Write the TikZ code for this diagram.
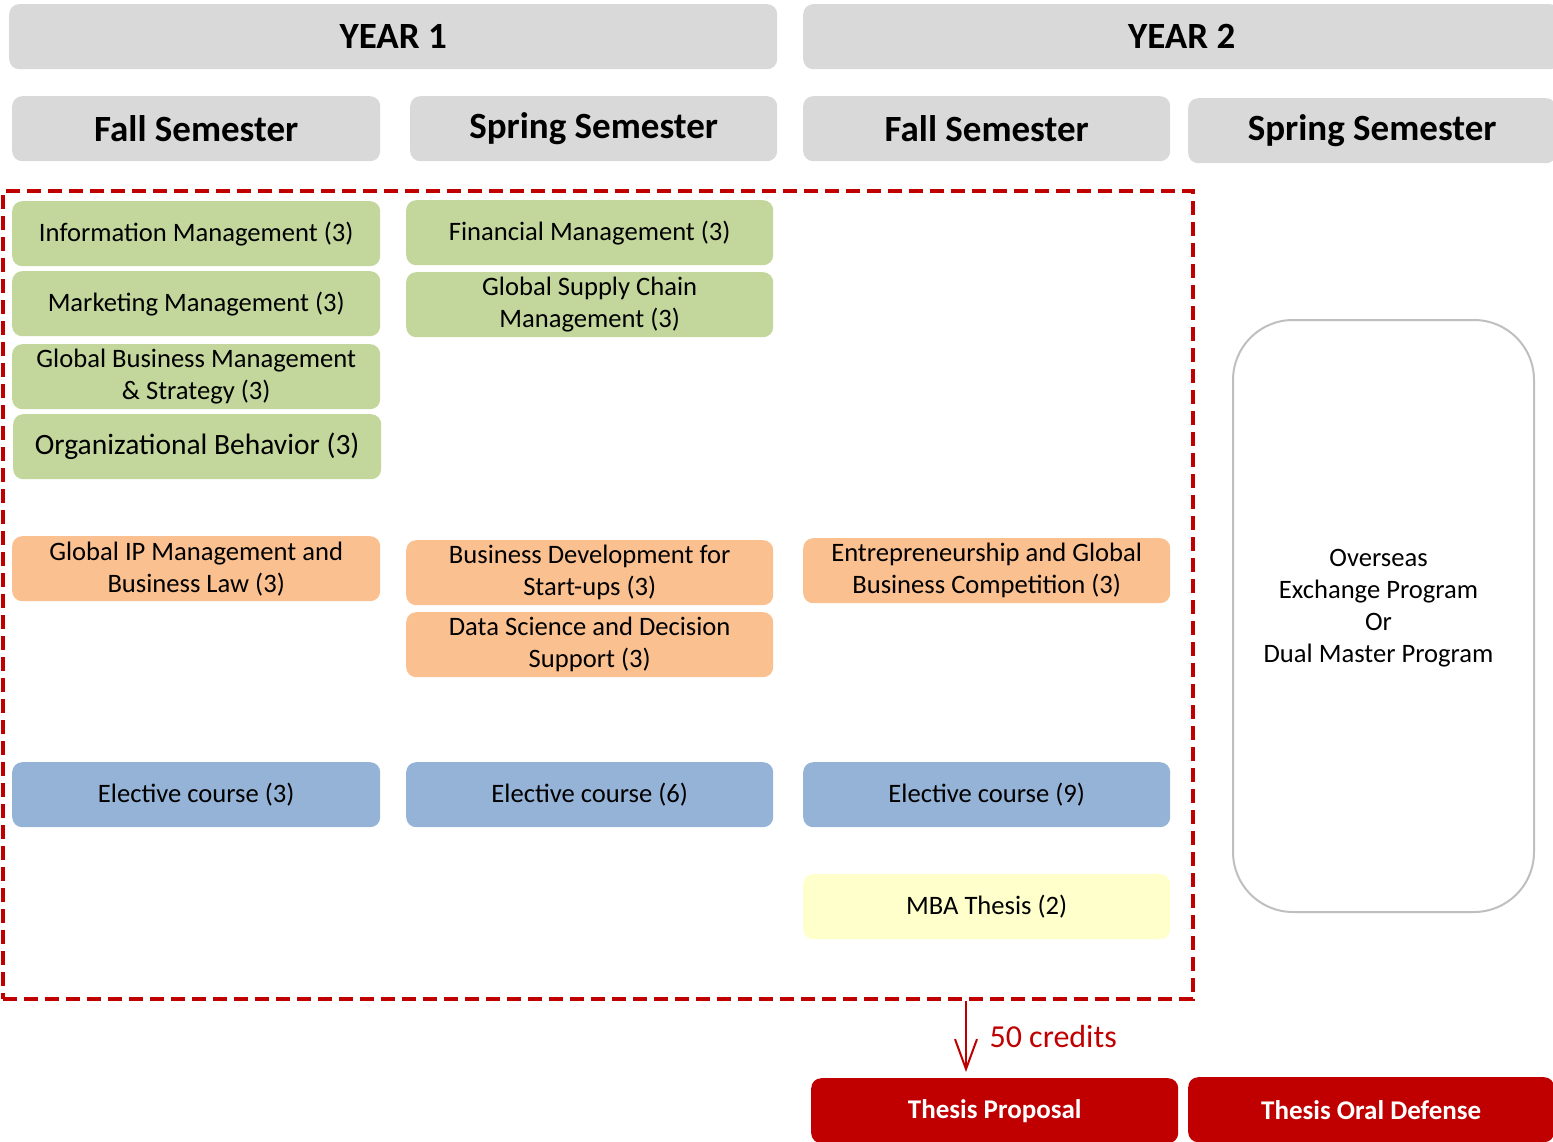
\documentclass[tikz,border=0pt]{standalone}
\usepackage{fontspec}
\setmainfont{Carlito}
\usetikzlibrary{arrows.meta}
\definecolor{hdrgray}{HTML}{D9D9D9}
\definecolor{cgreen}{HTML}{C3D69B}
\definecolor{corange}{HTML}{FAC090}
\definecolor{cblue}{HTML}{95B3D7}
\definecolor{cyellow}{HTML}{FFFFCC}
\definecolor{cred}{HTML}{C00000}
\definecolor{bordgray}{HTML}{BFBFBF}
\begin{document}
\begin{tikzpicture}[x=1pt,y=-1pt,
  base/.style={anchor=north west, rounded corners=10pt, minimum height=65pt, inner sep=0pt, align=center},
  yearbox/.style={base, fill=hdrgray, font=\fontsize{37}{42}\selectfont\bfseries},
  sembox/.style={base, fill=hdrgray, minimum width=368pt, font=\fontsize{37}{42}\selectfont\bfseries},
  course/.style={base, minimum width=368pt, font=\fontsize{26.6}{32}\selectfont},
  gbox/.style={course, fill=cgreen},
  obox/.style={course, fill=corange},
  bbox/.style={course, fill=cblue},
  ybox/.style={course, fill=cyellow},
  rbox/.style={base, fill=cred, text=white, minimum width=367pt, font=\fontsize{27}{32}\selectfont\bfseries},
  frame/.style={draw=cred, line width=4pt, dash pattern=on 14pt off 7pt, anchor=north west, inner sep=0pt},
]
\useasboundingbox (0,0) rectangle (1553,1142);
% year headers
\node[yearbox, minimum width=768pt] (y1) at (9,4) {YEAR 1};
\node[yearbox, minimum width=757pt] (y2) at (803,4) {YEAR 2};
% semester headers
\node[sembox] (s1) at (12,96) {Fall Semester};
\node[sembox, minimum width=367pt] (s2) at (410,96) {Spring Semester};
\node[sembox, minimum width=367pt] (s3) at (803,96) {Fall Semester};
\node[sembox] (s4) at (1188,98) {Spring Semester};
% dashed frame
\node[frame, minimum width=1190pt, minimum height=808pt] (fr) at (1,189) {};
% green
\node[gbox] (g1) at (12,201) {Information Management (3)};
\node[gbox] (g2) at (12,271) {Marketing Management (3)};
\node[gbox] (g3) at (12,344) {Global Business Management\\ \& Strategy (3)};
\node[gbox, font=\fontsize{29.5}{34}\selectfont] (g4) at (13,414) {Organizational Behavior (3)};
\node[gbox, minimum width=367pt] (g5) at (406,200) {Financial Management (3)};
\node[gbox, minimum width=367pt] (g6) at (406,272) {Global Supply Chain\\ Management (3)};
% orange
\node[obox] (o1) at (12,536) {Global IP Management and\\ Business Law (3)};
\node[obox, minimum width=367pt] (o2) at (406,540) {Business Development for\\ Start-ups (3)};
\node[obox, minimum width=367pt] (o3) at (406,612) {Data Science and Decision\\ Support (3)};
\node[obox, minimum width=367pt] (o4) at (803,538) {Entrepreneurship and Global\\ Business Competition (3)};
% blue
\node[bbox] (b1) at (12,762) {Elective course (3)};
\node[bbox, minimum width=367pt] (b2) at (406,762) {Elective course (6)};
\node[bbox, minimum width=367pt] (b3) at (803,762) {Elective course (9)};
% yellow
\node[ybox, minimum width=367pt] (t1) at (803,874) {MBA Thesis (2)};
% overseas
\node[anchor=north west, draw=bordgray, line width=2pt, rounded corners=60pt, minimum width=301pt, minimum height=592pt, inner sep=0pt] (ov) at (1232,319) {};
\node[align=center, inner sep=0pt, font=\fontsize{26.6}{32}\selectfont] (ovt) at ([yshift=8pt,xshift=-5pt]ov.center) {Overseas\\ Exchange Program\\ Or\\ Dual Master Program};
% thesis
\node[rbox] (tp) at (811,1078) {Thesis Proposal};
\node[rbox, minimum width=366pt] (td) at (1188,1077) {Thesis Oral Defense};
% arrow
\coordinate (arrtop) at (fr.south -| 966,0);
\draw[cred, line width=2pt, -{Straight Barb[length=30pt, width=22pt, line width=2pt]}, shorten >=6pt] (arrtop) -- (arrtop |- tp.north);
\node[anchor=west, text=cred, font=\fontsize{32}{38}\selectfont] (cr) at (986,1036) {50 credits};
\end{tikzpicture}
\end{document}
